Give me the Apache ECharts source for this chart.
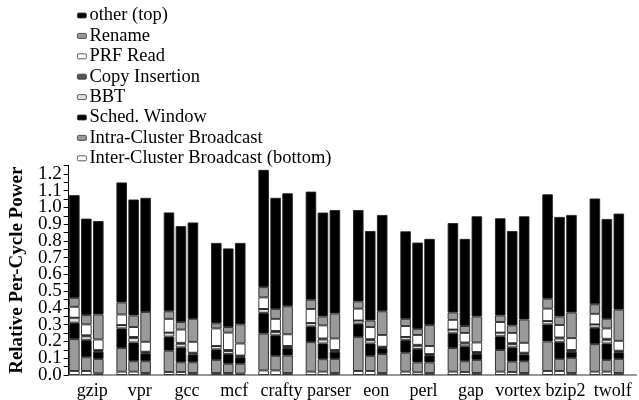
<!DOCTYPE html>
<html><head><meta charset="utf-8">
<script src="https://cdn.jsdelivr.net/npm/echarts@6/dist/echarts.min.js"></script>
<style>html,body{margin:0;padding:0;background:#fff}#c{width:639px;height:400px}</style>
</head><body><div id="c"></div>
<script>
const categories = ['gzip','vpr','gcc','mcf','crafty','parser','eon','perl','gap','vortex','bzip2','twolf'];
const yTicks = [0,0.1,0.2,0.3,0.4,0.5,0.6,0.7,0.8,0.9,1.0,1.1,1.2];

// Inter-Cluster Broadcast (bottom)
const interA = [.024,.02,.018,.012,.027,.02,.024,.02,.02,.02,.024,.02];
const interB = [.024,.02,.018,.012,.027,.02,.024,.016,.018,.018,.024,.02];
const interC = [.01,.012,.012,.008,.012,.012,.012,.012,.012,.012,.012,.012];
// Intra-Cluster Broadcast
const intraA = [.19,.141,.127,.078,.22,.176,.203,.113,.141,.129,.176,.164];
const intraB = [.082,.062,.058,.055,.087,.074,.09,.059,.064,.062,.072,.07];
const intraC = [.086,.07,.064,.059,.104,.084,.113,.063,.078,.07,.09,.084];
// Sched. Window
const schedA = [.098,.117,.084,.063,.124,.094,.079,.075,.088,.082,.102,.098];
const schedB = [.102,.112,.089,.058,.123,.094,.074,.08,.089,.085,.1,.098];
const schedC = [.043,.047,.046,.039,.045,.043,.036,.041,.035,.04,.037,.039];
// BBT
const bbtA = [.03,.02,.024,.02,.023,.02,.019,.019,.022,.022,.02,.02];
const bbtB = [.023,.027,.021,.018,.02,.024,.02,.019,.017,.019,.022,.022];
const bbtC = [.006,.006,.007,.006,.008,.006,.005,.005,.008,.007,.006,.006];
// Copy Insertion
const copyA = [0,0,0,0,0,0,0,0,0,0,0,0];
const copyB = [.006,.006,.006,.006,.006,.006,.006,.006,.006,.006,.006,.006];
const copyC = [.004,.004,.004,.004,.004,.004,.003,.004,.004,.004,.004,.004];
// PRF Read
const prfA = [.065,.063,.082,.105,.069,.084,.071,.065,.058,.063,.074,.063];
const prfB = [.065,.059,.079,.104,.072,.078,.072,.059,.057,.061,.074,.062];
const prfC = [.063,.059,.065,.072,.07,.069,.07,.048,.057,.059,.071,.059];
// Rename
const renameA = [.053,.072,.045,.03,.061,.055,.043,.043,.044,.039,.059,.057];
const renameB = [.055,.069,.045,.033,.059,.053,.039,.036,.041,.045,.051,.057];
const renameC = [.149,.178,.137,.114,.167,.149,.141,.125,.155,.139,.153,.186];
// other (top)
const otherA = [.613,.716,.59,.48,.70,.645,.545,.522,.533,.58,.623,.631];
const otherB = [.576,.692,.572,.469,.663,.62,.534,.515,.52,.563,.594,.596];
const otherC = [.557,.681,.575,.486,.674,.617,.575,.514,.598,.616,.582,.573];

const comps = [
  {name:'Inter-Cluster Broadcast (bottom)', color:'#ffffff', data:[interA,interB,interC]},
  {name:'Intra-Cluster Broadcast', color:'#9a9a9a', data:[intraA,intraB,intraC]},
  {name:'Sched. Window', color:'#000000', data:[schedA,schedB,schedC]},
  {name:'BBT', color:'#dcdcdc', data:[bbtA,bbtB,bbtC]},
  {name:'Copy Insertion', color:'#555555', data:[copyA,copyB,copyC]},
  {name:'PRF Read', color:'#ffffff', data:[prfA,prfB,prfC]},
  {name:'Rename', color:'#9a9a9a', data:[renameA,renameB,renameC]},
  {name:'other (top)', color:'#000000', data:[otherA,otherB,otherC]}
];
const FONT = '"Liberation Serif", "Times New Roman", serif';
const series = [];
for (let s = 0; s < 3; s++) {
  comps.forEach(c => {
    series.push({
      type:'bar', name:c.name, stack:'s'+s, data:c.data[s],
      barWidth:10.5, barGap:'14%',
      itemStyle:{color:c.color, borderColor:'#222', borderWidth:0.9},
      emphasis:{disabled:true}
    });
  });
}
// empty fourth slot per category (spacing between groups)
series.push({type:'bar', name:'_gap', stack:'s3', data:categories.map(()=>null), barWidth:10.5, barGap:'14%', silent:true});

const chart = echarts.init(document.getElementById('c'), null, {renderer:'canvas'});
chart.setOption({
  animation:false,
  legend:{
    orient:'vertical', left:77, top:6, padding:0,
    data:['other (top)','Rename','PRF Read','Copy Insertion','BBT','Sched. Window','Intra-Cluster Broadcast','Inter-Cluster Broadcast (bottom)'].map(n => ({name:n, itemStyle:{borderWidth:0.8, borderColor:'#333'}})),
    itemWidth:9, itemHeight:5, itemGap:1.4,
    selectedMode:false,
    textStyle:{fontFamily:FONT, fontSize:18.5, color:'#000', lineHeight:18, padding:[0,0,0,-2]}
  },
  grid:{left:65.5, width:571, top:165.5, bottom:22},
  xAxis:{
    type:'category', data:categories,
    axisLine:{lineStyle:{color:'#777', width:1.5}},
    axisTick:{show:false},
    axisLabel:{fontFamily:FONT, fontSize:18, color:'#000', margin:7, interval:0}
  },
  yAxis:{
    type:'value', min:0, max:1.25, interval:0.05,
    name:'Relative Per-Cycle Power', nameLocation:'middle', nameGap:35,
    nameTextStyle:{fontFamily:FONT, fontSize:19, fontWeight:'bold', color:'#000'},
    axisLine:{show:true, lineStyle:{color:'#000', width:1}},
    axisTick:{show:true, length:5, lineStyle:{color:'#000'}},
    splitLine:{show:false},
    axisLabel:{fontFamily:FONT, fontSize:19, color:'#000', margin:7,
      formatter:v => { const r = Math.round(v*100)/100; return yTicks.some(t => Math.abs(t-r)<1e-6) ? r.toFixed(1) : ''; }}
  },
  series:series
});
</script></body></html>
